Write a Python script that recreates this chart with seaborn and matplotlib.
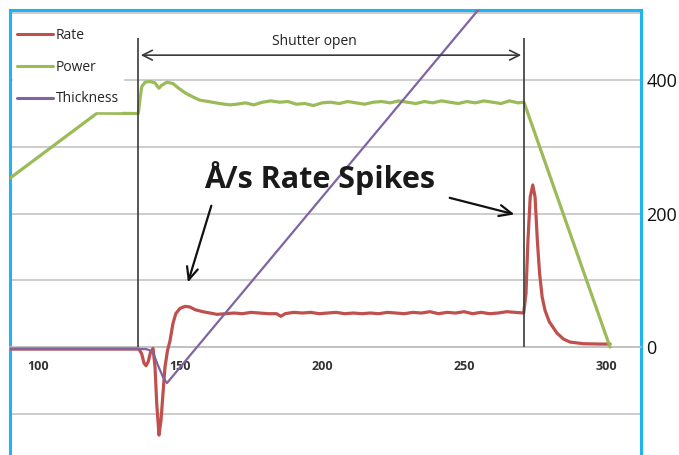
#! /usr/bin/env python3
'''
Deposition run: rate, power and thickness around the shutter opening
'''
import matplotlib.pyplot as plt
import pandas as pd
import seaborn as sns

# data (common y scale of the right axis)
RATE_T = [90.1, 135.5, 136.5, 137.3, 138.0, 138.8, 139.6, 140.5, 141.2, 141.8, 142.6, 143.3,
          144.0, 144.7, 145.6, 146.5, 147.5, 148.5, 150.0, 151.8, 153.5, 155.3, 158.0, 160.6,
          163, 166, 169, 172, 175, 178, 181, 184, 185.5, 187, 190, 193, 196, 199, 202, 205,
          208, 211, 214, 217, 220, 223, 226, 229, 232, 235, 238, 241, 244, 247, 250, 253,
          256, 259, 262, 265, 268, 271.0, 271.8, 272.5, 273.3, 274.2, 275.0, 275.8, 276.6,
          277.5, 278.5, 280.0, 282.7, 285.0, 287.3, 292.0, 297.9, 301.4]
RATE_V = [-3, -3, -10, -24, -28, -22, -8, -2, -30, -85, -132, -110,
          -70, -30, -5, 10, 35, 50, 58, 61, 60, 56, 53, 51,
          49, 50, 51, 50, 52, 51, 50, 50, 46, 50, 52, 51, 52, 50, 51, 52,
          50, 51, 50, 51, 50, 52, 51, 50, 52, 51, 53, 50, 52, 51, 53, 50,
          52, 50, 51, 53, 52, 51, 80, 160, 225, 243, 225, 160, 110,
          75, 55, 38, 21, 12, 7.5, 5, 4.5, 4.5]

POWER_T = [90.1, 120.8, 135.3, 136.0, 136.5, 137.7, 139.5, 141.2, 142.0, 142.6, 143.4, 145.4,
           147.5, 149.5, 151.8, 154, 157, 160, 164, 167.6, 170, 173, 176, 179, 182, 185,
           188, 191, 194, 197, 200, 203, 206, 209, 212, 215, 218, 221, 224, 227, 230, 233,
           236, 239, 242, 245, 248, 251, 254, 257, 260, 263, 266, 269, 271.1, 301.4]
POWER_V = [253, 350.6, 350, 375, 390, 397, 398, 396, 391, 388, 392, 397,
           395, 388, 381, 376, 370, 368, 365, 363, 364, 366, 363, 367, 369, 367,
           368, 364, 365, 362, 366, 367, 365, 368, 366, 364, 367, 368, 366, 369, 367, 365,
           368, 366, 369, 367, 365, 368, 366, 369, 367, 365, 369, 366, 367, 0]

THICK_T = [90.1, 138.0, 139.4, 140.5, 142.0, 144.0, 145.4, 256.5]
THICK_V = [-3, -3, -5, -8, -25, -45, -54, 513]

SHUTTER = [135.2, 271.1]
XTICKS = [100, 150, 200, 250, 300]
YTICKS = [-100, 0, 100, 200, 300, 400, 500]

COLORS = {'Rate': '#C0504D', 'Power': '#9BBB59', 'Thickness': '#8064A2'}
WIDTHS = {'Rate': 2.3, 'Power': 2.3, 'Thickness': 1.6}

sns.set_style("white")
plt.rcParams['font.family'] = ['Open Sans', 'DejaVu Sans']

fig = plt.figure(figsize=(6.79, 4.55), dpi=100)
ax = fig.add_axes([10 / 679, 0, 631 / 679, 445 / 455])

series = {'Rate': (RATE_T, RATE_V), 'Power': (POWER_T, POWER_V), 'Thickness': (THICK_T, THICK_V)}
for name, (t, v) in series.items():
    df = pd.DataFrame({'t': t, 'v': v})
    sns.lineplot(data=df, x='t', y='v', ax=ax, color=COLORS[name], lw=WIDTHS[name],
                 label=name, estimator=None, sort=False, zorder=3)

ax.set_xlim(90.14, 312.3)
ax.set_ylim(-161.8, 505.2)
ax.set_xlabel('')
ax.set_ylabel('')

# grid and axes
ax.set_yticks(YTICKS)
ax.set_yticklabels([str(y) if y in (0, 200, 400) else '' for y in YTICKS])
ax.yaxis.tick_right()
ax.tick_params(axis='y', length=0, pad=4, labelsize=13, labelcolor='#111111')
ax.grid(axis='y', color='#BFBFBF', lw=1.1)
ax.grid(axis='x', visible=False)
ax.set_xticks(XTICKS)
ax.spines['bottom'].set_position(('data', 0))
ax.spines['bottom'].set_color('#BFBFBF')
ax.spines['bottom'].set_linewidth(1.1)
ax.tick_params(axis='x', length=3, width=1, color='#BFBFBF', pad=6, labelsize=9,
               labelcolor='#333333')
for lab in ax.get_xticklabels():
    lab.set_fontweight('bold')
for s in ['left', 'top', 'right']:
    ax.spines[s].set_color('#1EB4F0')
    ax.spines[s].set_linewidth(2.2)

# shutter annotation
ax.vlines(SHUTTER, 0, 463, color='#3A3A3A', lw=1.2, zorder=4)
ax.annotate('', xy=(SHUTTER[0], 437.5), xytext=(SHUTTER[1], 437.5),
            arrowprops=dict(arrowstyle='<->,head_length=0.7,head_width=0.35', color='#3A3A3A', lw=1.2))
ax.text(sum(SHUTTER) / 2 - 6, 458, 'Shutter open', ha='center', va='center', fontsize=10, color='#222222')

# rate spikes callout
ax.text(199.3, 253, 'Å/s Rate Spikes', ha='center', va='center', fontsize=22, fontweight='bold',
        color='#1A1A1A')
arrow = dict(arrowstyle='->,head_length=0.9,head_width=0.4', color='#111111', lw=1.6)
ax.annotate('', xy=(152.5, 92.9), xytext=(161.3, 215.7), arrowprops=arrow)
ax.annotate('', xy=(268.7, 197.8), xytext=(244.0, 224.7), arrowprops=arrow)

leg = ax.legend(loc='upper left', bbox_to_anchor=(0.0, 0.975), frameon=True, fontsize=10,
                handlelength=2.6, handletextpad=0.2, labelspacing=1.2, borderaxespad=0.2,
                borderpad=0.3)
leg.get_frame().set_facecolor('white')
leg.get_frame().set_edgecolor('white')
leg.get_frame().set_alpha(1)
for h in leg.get_lines():
    h.set_linewidth(2.2)

fig.savefig('out.png', dpi=100)
